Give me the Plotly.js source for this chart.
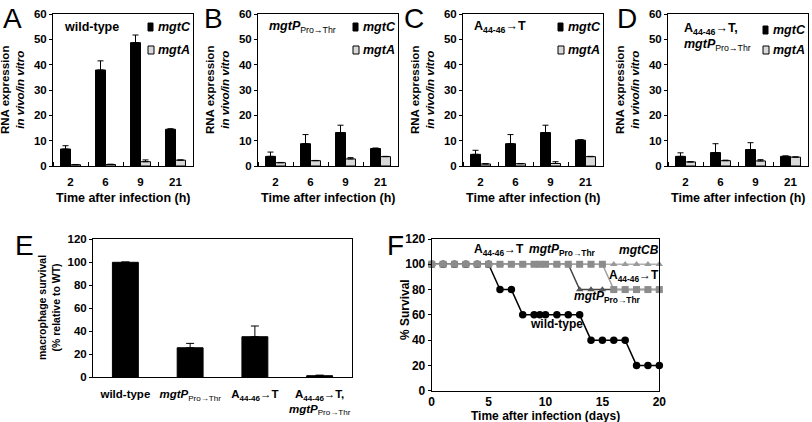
<!DOCTYPE html>
<html><head><meta charset="utf-8">
<script src="https://cdn.plot.ly/plotly-3.0.1.min.js"></script>
<style>body{margin:0;background:#fff}#chart{width:812px;height:422px}</style>
</head><body><div id="chart"></div>
<script>
// ---------- DATA ----------
const hours = ['2', '6', '9', '21'];
const A_mgtC = [6.7, 37.9, 48.7, 14.5];
const A_mgtC_err = [1.3, 3.6, 3.0, 0.2];
const A_mgtA = [0.5, 0.6, 1.7, 2.3];
const A_mgtA_err = [0.1, 0.1, 0.7, 0.1];
const B_mgtC = [3.8, 8.8, 13.2, 6.9];
const B_mgtC_err = [1.7, 3.6, 2.9, 0.2];
const B_mgtA = [1.3, 2.1, 2.8, 3.7];
const B_mgtA_err = [0.1, 0.1, 0.5, 0.1];
const C_mgtC = [4.6, 8.8, 13.2, 10.2];
const C_mgtC_err = [1.6, 3.6, 2.9, 0.2];
const C_mgtA = [0.8, 0.9, 1.0, 3.7];
const C_mgtA_err = [0.1, 0.1, 0.7, 0.1];
const D_mgtC = [3.8, 5.3, 6.5, 3.8];
const D_mgtC_err = [1.4, 3.5, 2.7, 0.2];
const D_mgtA = [1.6, 2.1, 2.0, 3.5];
const D_mgtA_err = [0.1, 0.2, 0.5, 0.1];

const strains = ['wild-type', '<i>mgtP</i><sub><span style="font-weight:normal">Pro→Thr</span></sub>',
  'A<sub>44-46</sub>→T', 'A<sub>44-46</sub>→T,<br><i>mgtP</i><sub><span style="font-weight:normal">Pro→Thr</span></sub>'];
const macSurvival = [100, 25.7, 35.3, 1.4];
const macSurvivalErr = [0.3, 3.8, 9.3, 0.5];

const days = [0, 1, 2, 3, 4, 5, 6, 7, 8, 9, 9.5, 10, 11, 12, 13, 14, 15, 16, 17, 18, 19, 20];
const surv_wt    = [100,100,100,100,100,100,80,80,60,60,60,60,60,60,60,40,40,40,40,20,20,20];
const surv_mgtCB = [100,100,100,100,100,100,100,100,100,100,100,100,100,100,100,100,100,100,100,100,100,100];
const surv_mgtP  = [100,100,100,100,100,100,100,100,100,100,100,100,100,100,80,80,80,80,80,80,80,80];
const surv_A44   = [100,100,100,100,100,100,100,100,100,100,100,100,100,100,100,100,100,80,80,80,80,80];

// ---------- LAYOUT HELPERS ----------
const W = 812, H = 422;
const px = x => x / W;
const py = y => 1 - y / H;
const FONT = 'Liberation Sans, Arial, sans-serif';
const zeros = a => a.map(() => 0);
const hourIdx = hours.map((_, i) => i);   // category slot of each time point

const panelLeft = [53, 258, 463, 668];
const panelW = 140, panelTop = 14, panelBot = 166;
const panelData = [
  [A_mgtC, A_mgtC_err, A_mgtA, A_mgtA_err],
  [B_mgtC, B_mgtC_err, B_mgtA, B_mgtA_err],
  [C_mgtC, C_mgtC_err, C_mgtA, C_mgtA_err],
  [D_mgtC, D_mgtC_err, D_mgtA, D_mgtA_err]
];
const panelTitles = [
  'wild-type',
  '<i>mgtP</i><sub><span style="font-weight:normal">Pro→Thr</span></sub>',
  'A<sub>44-46</sub>→T',
  'A<sub>44-46</sub>→T,<br><i>mgtP</i><sub><span style="font-weight:normal">Pro→Thr</span></sub>'
];
const letters = ['A', 'B', 'C', 'D'];
const letterX = [1, 202, 402, 615];

const traces = [];
const layout = {
  width: W, height: H,
  margin: {l: 0, r: 0, t: 0, b: 0},
  paper_bgcolor: '#fff', plot_bgcolor: '#fff',
  font: {family: FONT, size: 12, color: '#000', weight: 'bold'},
  showlegend: false,
  barmode: 'group', bargap: 0.43, bargroupgap: 0,
  annotations: [], shapes: []
};

function axisCommon() {
  return {showline: true, mirror: true, linecolor: '#000', linewidth: 1,
    showgrid: false, zeroline: false, fixedrange: true,
    tickcolor: '#000', tickfont: {family: FONT, size: 11.5, weight: 'bold', color: '#000'}};
}

panelData.forEach((d, i) => {
  const n = i + 1;
  const xa = n === 1 ? 'x' : 'x' + n, ya = n === 1 ? 'y' : 'y' + n;
  const L = panelLeft[i];
  traces.push({type: 'bar', x: hourIdx, y: d[0], xaxis: xa, yaxis: ya, name: 'mgtC',
    marker: {color: '#000', line: {color: '#000', width: 1}},
    error_y: {type: 'data', symmetric: false, array: d[1], arrayminus: zeros(d[1]), color: '#000', thickness: 1, width: 3}});
  traces.push({type: 'bar', x: hourIdx, y: d[2], xaxis: xa, yaxis: ya, name: 'mgtA',
    marker: {color: '#d9d9d9', line: {color: '#000', width: 1}},
    error_y: {type: 'data', symmetric: false, array: d[3], arrayminus: zeros(d[3]), color: '#000', thickness: 1, width: 3}});
  layout['xaxis' + (n === 1 ? '' : n)] = Object.assign(axisCommon(), {
    domain: [px(L), px(L + panelW)], anchor: ya, type: 'linear', range: [-0.5, 3.5],
    tickmode: 'array', tickvals: hourIdx, ticktext: hours, ticks: '', ticklabelstandoff: 5,
    minor: {ticks: 'inside', tick0: 0.5, dtick: 1, ticklen: 4, tickcolor: '#000', showgrid: false}});
  layout['yaxis' + (n === 1 ? '' : n)] = Object.assign(axisCommon(), {
    domain: [py(panelBot), py(panelTop)], anchor: xa, range: [0, 60], dtick: 10,
    ticks: 'outside', ticklen: 3});
  // panel letter
  layout.annotations.push({xref: 'paper', yref: 'paper', x: px(letterX[i]), y: py(18), xanchor: 'left', yanchor: 'middle',
    text: letters[i], showarrow: false, font: {family: FONT, size: 28, weight: 'normal'}});
  // panel strain title
  const multi = i === 3;
  layout.annotations.push({xref: 'paper', yref: 'paper', x: px(L + (multi ? 14 : 9)), y: py(multi ? 37 : 27),
    xanchor: 'left', yanchor: 'middle', align: 'left', text: panelTitles[i], showarrow: false,
    font: {family: FONT, size: 12.5, weight: 'bold'}});
  // legend
  const yC = multi ? 30 : 27, yA = 50;
  layout.shapes.push({type: 'rect', xref: 'paper', yref: 'paper', x0: px(L + 95), x1: px(L + 100),
    y0: py(yC + 4), y1: py(yC - 4), fillcolor: '#000', line: {color: '#000', width: 1}});
  layout.shapes.push({type: 'rect', xref: 'paper', yref: 'paper', x0: px(L + 95), x1: px(L + 101),
    y0: py(yA + 4), y1: py(yA - 4), fillcolor: '#d9d9d9', line: {color: '#000', width: 1}});
  layout.annotations.push({xref: 'paper', yref: 'paper', x: px(L + 103), y: py(yC), xanchor: 'left', yanchor: 'middle',
    text: '<i>mgtC</i>', showarrow: false, font: {family: FONT, size: 12.5, weight: 'bold'}});
  layout.annotations.push({xref: 'paper', yref: 'paper', x: px(L + 103), y: py(yA), xanchor: 'left', yanchor: 'middle',
    text: '<i>mgtA</i>', showarrow: false, font: {family: FONT, size: 12.5, weight: 'bold'}});
  // axis titles
  layout.annotations.push({xref: 'paper', yref: 'paper', x: px(L + panelW / 2), y: py(198), xanchor: 'center', yanchor: 'middle',
    text: 'Time after infection (h)', showarrow: false, font: {family: FONT, size: 12.5, weight: 'bold'}});
  layout.annotations.push({xref: 'paper', yref: 'paper', x: px(L - 40), y: py(90), xanchor: 'center', yanchor: 'middle',
    textangle: -90, text: 'RNA expression<br><i>in vivo/in vitro</i>', showarrow: false,
    font: {family: FONT, size: 11.5, weight: 'bold'}});
});

// ---------- PANEL E ----------
traces.push({type: 'bar', x: strains, y: macSurvival, xaxis: 'x5', yaxis: 'y5', width: 0.4,
  marker: {color: '#000', line: {color: '#000', width: 1}},
  error_y: {type: 'data', symmetric: false, array: macSurvivalErr, arrayminus: zeros(macSurvivalErr), color: '#000', thickness: 1, width: 4}});
layout.xaxis5 = Object.assign(axisCommon(), {domain: [px(93), px(352)], anchor: 'y5', type: 'category',
  range: [-0.5, 3.5], ticks: '', ticklabelstandoff: 6});
layout.yaxis5 = Object.assign(axisCommon(), {domain: [py(377.3), py(239.3)], anchor: 'x5', range: [0, 120], dtick: 20,
  ticks: 'outside', ticklen: 3});
layout.annotations.push({xref: 'paper', yref: 'paper', x: px(13), y: py(245), xanchor: 'left', yanchor: 'middle',
  text: 'E', showarrow: false, font: {family: FONT, size: 28, weight: 'normal'}});
layout.annotations.push({xref: 'paper', yref: 'paper', x: px(49), y: py(308), xanchor: 'center', yanchor: 'middle',
  textangle: -90, text: 'macrophage survival<br>(% relative to WT)', showarrow: false,
  font: {family: FONT, size: 10.5, weight: 'bold'}});

// ---------- PANEL F ----------
const fLine = (y, name, color, lineColor, symbol, size) => ({
  type: 'scatter', mode: 'lines+markers', x: days, y: y, xaxis: 'x6', yaxis: 'y6', name: name,
  cliponaxis: false, line: {color: lineColor, width: 1.5},
  marker: {color: color, symbol: symbol, size: size, line: {width: 0}}});
traces.push(fLine(surv_wt, 'wild-type', '#000', '#000', 'circle', 7.5));
traces.push(fLine(surv_mgtCB, 'mgtCB', '#9a9a9a', '#b0b0b0', 'triangle-up', 6.5));
traces.push(fLine(surv_mgtP, 'mgtP Pro→Thr', '#555', '#444', 'triangle-up', 6.5));
traces.push(fLine(surv_A44, 'A44-46→T', '#8c8c8c', '#a0a0a0', 'square', 7));
layout.xaxis6 = Object.assign(axisCommon(), {domain: [px(431.7), px(659.3)], anchor: 'y6', range: [0, 20], dtick: 5,
  ticks: '', ticklabelstandoff: 0, tickfont: {family: FONT, size: 12, weight: 'bold'}});
layout.yaxis6 = Object.assign(axisCommon(), {domain: [py(390.7), py(239)], anchor: 'x6', range: [0, 120], dtick: 20,
  ticks: 'outside', ticklen: 3, tickfont: {family: FONT, size: 12, weight: 'bold'}});
layout.annotations.push({xref: 'paper', yref: 'paper', x: px(385), y: py(245), xanchor: 'left', yanchor: 'middle',
  text: 'F', showarrow: false, font: {family: FONT, size: 28, weight: 'normal'}});
layout.annotations.push({xref: 'paper', yref: 'paper', x: px(405), y: py(310), xanchor: 'center', yanchor: 'middle',
  textangle: -90, text: '% Survival', showarrow: false, font: {family: FONT, size: 12, weight: 'bold'}});
layout.annotations.push({xref: 'paper', yref: 'paper', x: px(545), y: py(416), xanchor: 'center', yanchor: 'middle',
  text: 'Time after infection (days)', showarrow: false, font: {family: FONT, size: 12, weight: 'bold'}});
const fLabels = [
  ['A<sub>44-46</sub>→T', 472, 250],
  ['<i>mgtP</i><sub>Pro→Thr</sub>', 527, 250],
  ['<i>mgtCB</i>', 617, 250],
  ['A<sub>44-46</sub>→T', 607, 276],
  ['<i>mgtP</i><sub>Pro→Thr</sub>', 572, 297],
  ['wild-type', 528, 324]
];
fLabels.forEach(([t, x, y]) => layout.annotations.push({xref: 'paper', yref: 'paper', x: px(x), y: py(y),
  xanchor: 'left', yanchor: 'middle', text: t, showarrow: false, font: {family: FONT, size: 12, weight: 'bold'}}));

Plotly.newPlot('chart', traces, layout, {displayModeBar: false, staticPlot: true});
</script>
</body></html>
